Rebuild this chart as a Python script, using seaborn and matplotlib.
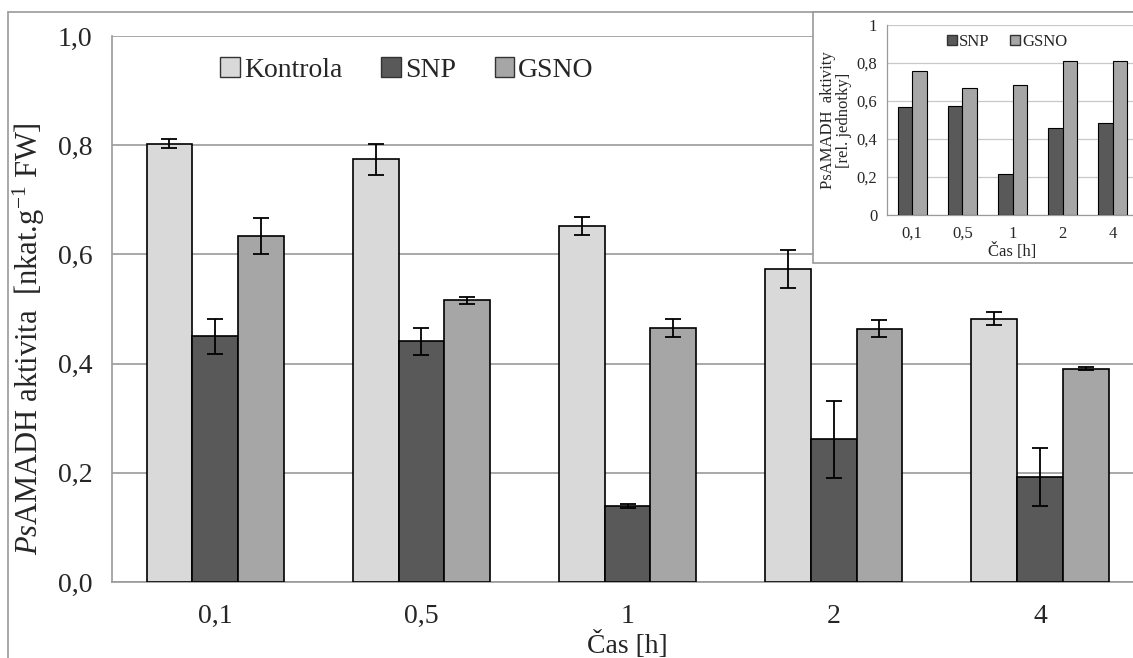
import numpy as np
import pandas as pd
import matplotlib
matplotlib.use("Agg")
import matplotlib.pyplot as plt
import seaborn as sns
from matplotlib.lines import Line2D
from matplotlib.patches import Rectangle

sns.set_style("white")
plt.rcParams["font.family"] = ["Liberation Serif", "DejaVu Serif"]
plt.rcParams["mathtext.fontset"] = "custom"
plt.rcParams["mathtext.rm"] = "Liberation Serif"
plt.rcParams["mathtext.it"] = "Liberation Serif:italic"

# hlavni graf
casy = ["0,1", "0,5", "1", "2", "4"]
skupiny = ["Kontrola", "SNP", "GSNO"]
kontrola = [0.803, 0.774, 0.652, 0.573, 0.482]
kontrola_err = [0.009, 0.029, 0.017, 0.035, 0.012]
snp = [0.450, 0.441, 0.139, 0.261, 0.193]
snp_err = [0.032, 0.025, 0.004, 0.071, 0.053]
gsno = [0.634, 0.516, 0.465, 0.464, 0.391]
gsno_err = [0.033, 0.006, 0.016, 0.015, 0.003]
y_ticks = [0.0, 0.2, 0.4, 0.6, 0.8, 1.0]
y_labels = ["0,0", "0,2", "0,4", "0,6", "0,8", "1,0"]

# vlozeny graf (relativni jednotky)
inset_snp = [0.566, 0.574, 0.215, 0.458, 0.482]
inset_gsno = [0.760, 0.670, 0.686, 0.809, 0.811]
inset_y_labels = ["0", "0,2", "0,4", "0,6", "0,8", "1"]

barvy = {"Kontrola": "#d9d9d9", "SNP": "#595959", "GSNO": "#a6a6a6"}
seda = "#9a9a9a"

df = pd.DataFrame({
    "cas": casy * 3,
    "skupina": np.repeat(skupiny, len(casy)),
    "hodnota": kontrola + snp + gsno,
    "chyba": kontrola_err + snp_err + gsno_err,
})
df_in = pd.DataFrame({
    "cas": casy * 2,
    "skupina": np.repeat(["SNP", "GSNO"], len(casy)),
    "hodnota": inset_snp + inset_gsno,
})

fig = plt.figure(figsize=(11.33, 6.58), dpi=100)
ax = fig.add_axes([0.0989, 0.1155, 0.91, 0.8298])

sns.barplot(data=df, x="cas", y="hodnota", hue="skupina", order=casy,
            hue_order=skupiny, palette=barvy, width=0.665, errorbar=None,
            edgecolor="black", linewidth=1.2, ax=ax, zorder=3)

for cont, g in zip(ax.containers, skupiny):
    err = df.loc[df["skupina"] == g, "chyba"].values
    xs = [p.get_x() + p.get_width() / 2 for p in cont.patches]
    ys = [p.get_height() for p in cont.patches]
    ax.errorbar(xs, ys, yerr=err, fmt="none", ecolor="black",
                elinewidth=1.3, capsize=6, capthick=1.3, zorder=4)

ax.set_ylim(0, 1.0)
ax.set_xlim(-0.5, 4.5)
ax.set_yticks(y_ticks)
ax.set_yticklabels(y_labels, fontsize=20)
ax.set_xticks(np.arange(-0.5, 5.0, 1.0))
ax.set_xticklabels([])
ax.set_xticks(range(len(casy)), minor=True)
ax.set_xticklabels(casy, minor=True, fontsize=20)
ax.tick_params(axis="x", which="minor", length=0, pad=16)
ax.tick_params(axis="x", which="major", length=8, color=seda, direction="out")
ax.tick_params(axis="y", length=8, color=seda, direction="out", pad=6)
ax.yaxis.grid(True, color=seda, linewidth=1.2, zorder=0)
ax.set_axisbelow(True)
for s in ["top", "right"]:
    ax.spines[s].set_visible(False)
for s in ["left", "bottom"]:
    ax.spines[s].set_color(seda)
    ax.spines[s].set_linewidth(1.2)

ax.set_xlabel("Čas [h]", fontsize=20, labelpad=1)
ax.set_ylabel(r"$\it{Ps}$AMADH aktivita  [nkat.g$^{\rm{-1}}$ FW]", fontsize=22)
ax.yaxis.set_label_coords(-0.063, 0.445)

h = [Rectangle((0, 0), 1, 1, facecolor=barvy[g], edgecolor="#333333") for g in skupiny]
ax.legend(h, skupiny, ncol=3, frameon=False, fontsize=20, loc="center",
          bbox_to_anchor=(0.286, 0.938), handlelength=0.7, handleheight=0.7,
          handletextpad=0.15, columnspacing=1.4)

# ramecek obrazku a vlozeneho grafu
fig.add_artist(Line2D([0.00706, 0.00706], [0.0, 0.9818], color=seda, lw=1.2))
fig.add_artist(Line2D([0.00706, 1.0], [0.9818, 0.9818], color=seda, lw=1.2))
fig.add_artist(Rectangle((0.7176, 0.6003), 0.3, 0.3815, facecolor="white",
                         edgecolor=seda, lw=1.2, zorder=5))

axi = fig.add_axes([0.7829, 0.6733, 0.2215, 0.2888], zorder=6)
sns.barplot(data=df_in, x="cas", y="hodnota", hue="skupina", order=casy,
            hue_order=["SNP", "GSNO"], palette=barvy, width=0.58, errorbar=None,
            edgecolor="black", linewidth=0.8, ax=axi, zorder=3)
axi.set_ylim(0, 1.0)
axi.set_xlim(-0.5, 4.5)
axi.set_yticks(y_ticks)
axi.set_yticklabels(inset_y_labels, fontsize=12)
axi.set_xticks(np.arange(-0.5, 5.0, 1.0))
axi.set_xticklabels([])
axi.set_xticks(range(len(casy)), minor=True)
axi.set_xticklabels(casy, minor=True, fontsize=12)
axi.tick_params(axis="x", which="minor", length=0, pad=8)
axi.tick_params(axis="x", which="major", length=4, color=seda, direction="out")
axi.tick_params(axis="y", length=4, color=seda, direction="out", pad=3)
axi.yaxis.grid(True, color="#c8c8c8", linewidth=0.9, zorder=0)
axi.set_axisbelow(True)
for s in ["top", "right"]:
    axi.spines[s].set_visible(False)
for s in ["left", "bottom"]:
    axi.spines[s].set_color(seda)
    axi.spines[s].set_linewidth(0.9)
axi.set_xlabel("Čas [h]", fontsize=12, labelpad=1)
axi.set_ylabel("PsAMADH  aktivity\n[rel. jednotky]", fontsize=12, linespacing=1.0,
               labelpad=3)
hi = [Rectangle((0, 0), 1, 1, facecolor=barvy[g], edgecolor="#333333") for g in ["SNP", "GSNO"]]
axi.legend(hi, ["SNP", "GSNO"], ncol=2, frameon=False, fontsize=12, loc="center",
           bbox_to_anchor=(0.478, 0.91), handlelength=0.6, handleheight=0.6,
           handletextpad=0.15, columnspacing=1.2)

fig.savefig("out.png", dpi=100)
